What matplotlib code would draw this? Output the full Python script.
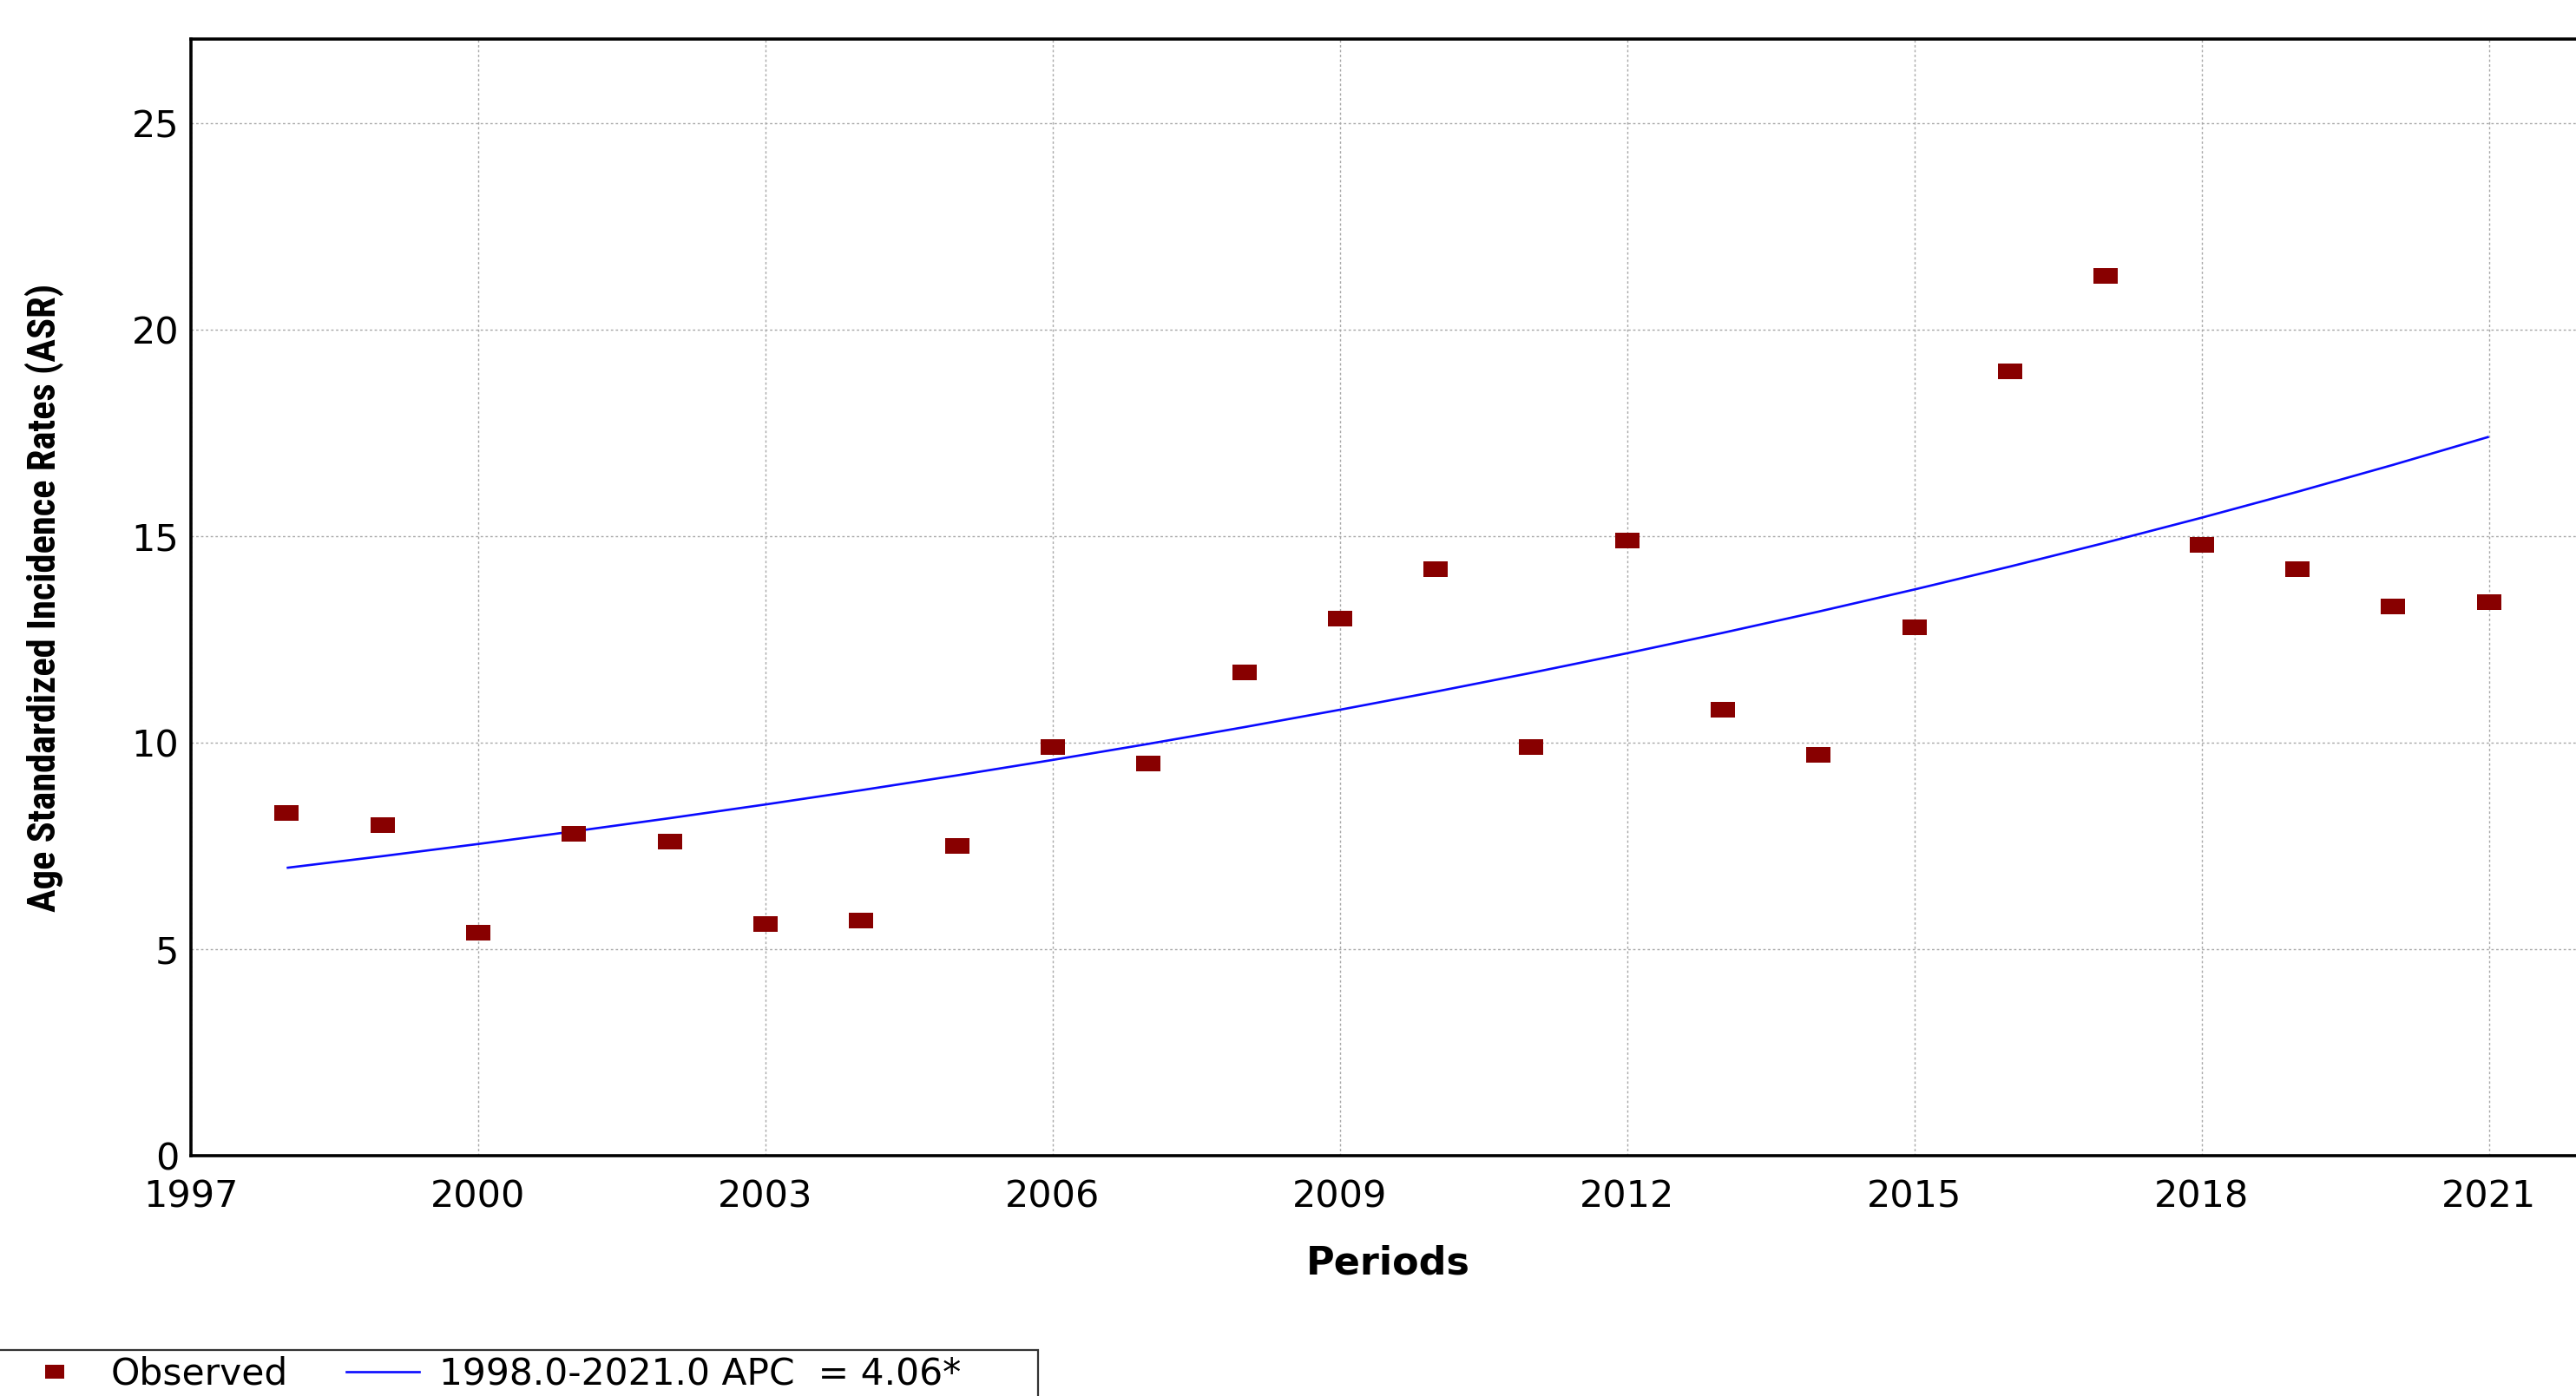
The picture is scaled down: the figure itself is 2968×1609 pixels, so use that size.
import matplotlib
matplotlib.use("Agg")
import matplotlib.pyplot as plt
from matplotlib.path import Path
from matplotlib.patches import Rectangle
from matplotlib.lines import Line2D
from matplotlib import font_manager
import numpy as np

# Observed age standardized incidence rates by year
years = [1998, 1999, 2000, 2001, 2002, 2003, 2004, 2005, 2006, 2007, 2008, 2009,
         2010, 2011, 2012, 2013, 2014, 2015, 2016, 2017, 2018, 2019, 2020, 2021]
observed = [8.3, 8.0, 5.4, 7.8, 7.6, 5.6, 5.7, 7.5, 9.9, 9.5, 11.7, 13.0,
            14.2, 9.9, 14.9, 10.8, 9.7, 12.8, 19.0, 21.3, 14.8, 14.2, 13.3, 13.4]

# Joinpoint segment: single segment 1998-2021 with annual percent change
seg_start, seg_end = 1998, 2021
apc = 4.06
fit_start_value = 6.97

x_ticks = [1997, 2000, 2003, 2006, 2009, 2012, 2015, 2018, 2021]
y_ticks = [0, 5, 10, 15, 20, 25]

fit_years = np.arange(seg_start, seg_end + 1)
fitted = fit_start_value * (1 + apc / 100.0) ** (fit_years - seg_start)

W, H = 2968, 1609
DPI = 100
fig = plt.figure(figsize=(W / DPI, H / DPI), dpi=DPI)
fig.patch.set_facecolor("white")

ax_left, ax_top, ax_bottom = 220, 45, 1332
ax_width = 2758
ax = fig.add_axes([ax_left / W, 1 - ax_bottom / H, ax_width / W, (ax_bottom - ax_top) / H])

# Flat rectangular marker used for observed points
rect_marker = Path([(-1, -0.68), (1, -0.68), (1, 0.68), (-1, 0.68), (-1, -0.68)],
                   [Path.MOVETO, Path.LINETO, Path.LINETO, Path.LINETO, Path.CLOSEPOLY])

ax.plot(fit_years, fitted, color="#0a0aff", lw=1.9, zorder=3, solid_capstyle="butt")
ax.plot(years, observed, linestyle="none", marker=rect_marker, markersize=19.5,
        markerfacecolor="#880000", markeredgewidth=0, zorder=4)

ax.set_xlim(1997, 2022)
ax.set_ylim(0, 27.04)
ax.set_xticks(x_ticks)
ax.set_yticks(y_ticks)

ax.grid(True, color="#a8a8a8", linestyle=(0, (2, 2)), linewidth=1.0, zorder=0)
ax.set_axisbelow(True)

ax.tick_params(axis="both", length=0, labelsize=31, labelcolor="black")
ax.tick_params(axis="x", pad=19)
ax.tick_params(axis="y", pad=10)

for side in ("left", "bottom", "top"):
    ax.spines[side].set_linewidth(2.6)
    ax.spines[side].set_color("black")
ax.spines["right"].set_visible(False)

ax.set_xlabel("Periods", fontsize=32, fontweight="bold")
ax.xaxis.set_label_coords(0.5, -0.080)

# Narrow bold face for the vertical axis title
installed = {f.name for f in font_manager.fontManager.ttflist}
narrow_candidates = ["Liberation Sans Narrow", "DejaVu Sans Condensed", "Roboto Condensed",
                     "Open Sans Condensed"]
narrow = next((n for n in narrow_candidates if n in installed), None)
if narrow is not None:
    ylab_family, ylab_size = [narrow, "DejaVu Sans"], 32
else:
    ylab_family, ylab_size = ["Roboto", "DejaVu Sans"], 28
ax.set_ylabel("Age Standardized Incidence Rates (ASR)", fontsize=ylab_size,
              fontweight="bold", family=ylab_family, fontstretch="condensed")
ax.yaxis.set_label_coords(-0.053, 0.5)

# Legend strip along the bottom edge
fig.patches.append(Rectangle((-10, -20), 1206, (H - 1556) + 20, transform=None,
                             facecolor="white", edgecolor="#333333", linewidth=1.6,
                             figure=fig, zorder=1))

handles = [
    Line2D([], [], linestyle="none", marker=rect_marker, markersize=16,
           markerfacecolor="#880000", markeredgewidth=0),
    Line2D([], [], color="#0a0aff", lw=1.9),
]
labels = ["Observed", f"{seg_start:.1f}-{seg_end:.1f} APC  = {apc:.2f}*"]
leg = fig.legend(handles, labels, loc="center left", ncol=2, frameon=False,
                 bbox_to_anchor=(21 / W, 1 - 1584 / H), bbox_transform=fig.transFigure,
                 fontsize=30.5, handlelength=1.97, handletextpad=0.54, columnspacing=1.6,
                 borderpad=0, borderaxespad=0)
leg.set_zorder(2)

fig.savefig("out.png", dpi=DPI, facecolor="white")
